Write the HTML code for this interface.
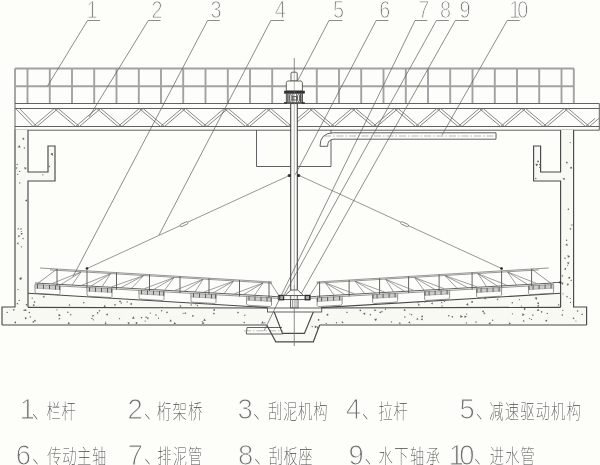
<!DOCTYPE html>
<html lang="zh"><head><meta charset="utf-8"><title>刮泥机结构示意图</title>
<style>
html,body{margin:0;padding:0;background:#fdfdf9;}
body{width:600px;height:465px;overflow:hidden;}
svg{display:block;filter:blur(0.35px);}
.m{stroke:#505050;stroke-width:0.9;fill:none;}
.mw{stroke:#505050;stroke-width:0.9;fill:#fdfdf9;}
.r{stroke:#a2a2a2;stroke-width:1.9;fill:none;}
.t{stroke:#6a6a6a;stroke-width:0.8;fill:none;}
.n{stroke:#6a6a6a;stroke-width:0.7;fill:none;}
.band{fill:#cbcbc8;stroke:#8a8a8a;stroke-width:0.5;}
.nw{stroke:#666;stroke-width:0.7;fill:#fdfdf9;}
.n2{stroke:#6e6e6e;stroke-width:0.65;fill:none;}
.c{stroke:#888;stroke-width:0.6;fill:none;stroke-dasharray:7 2 1.5 2;}
.c2{stroke:#777;stroke-width:0.5;fill:none;}
.ld{stroke:#5c5c5c;stroke-width:0.7;fill:none;}
.blk{fill:#222;stroke:none;}
.sq{fill:#aaa;stroke:#2a2a2a;stroke-width:1.2;}
.blkr{fill:#333;stroke:#333;stroke-width:0.5;}
.dot{fill:#666;}
.cf{fill:#f9f9f4;stroke:none;}
.kw{stroke:#484848;stroke-width:1.1;fill:#fdfdf9;}
.k{stroke:#484848;stroke-width:1.15;fill:none;}
.tri{fill:#666;stroke:none;}
text{font-family:"Liberation Sans","Noto Sans CJK SC",sans-serif;}
.d{fill:#707070;stroke:#fdfdf9;stroke-width:1.0;font-weight:400;}
.zs{fill:#484848;font-weight:100;letter-spacing:2.2px;}
.d10{fill:#707070;stroke:#fdfdf9;stroke-width:1.0;letter-spacing:-3.6px;}
.d10b{fill:#707070;stroke:#fdfdf9;stroke-width:1.0;letter-spacing:-5px;}
.z{fill:#484848;font-weight:100;font-family:"Liberation Sans","Noto Sans CJK SC",sans-serif;}
</style></head>
<body>
<svg width="600" height="465" viewBox="0 0 600 465">
<rect x="0" y="0" width="600" height="465" fill="#fdfdf9"/>
<g id="rail">
<line class="r" x1="15.0" y1="68.5" x2="574.0" y2="68.5"/>
<line class="r" x1="15.0" y1="86.2" x2="574.0" y2="86.2"/>
<line class="r" x1="15.0" y1="68.5" x2="15.0" y2="103.5"/>
<line class="r" x1="27.5" y1="68.5" x2="27.5" y2="103.5"/>
<line class="r" x1="49.8" y1="68.5" x2="49.8" y2="103.5"/>
<line class="r" x1="72.0" y1="68.5" x2="72.0" y2="103.5"/>
<line class="r" x1="94.2" y1="68.5" x2="94.2" y2="103.5"/>
<line class="r" x1="116.5" y1="68.5" x2="116.5" y2="103.5"/>
<line class="r" x1="138.8" y1="68.5" x2="138.8" y2="103.5"/>
<line class="r" x1="161.0" y1="68.5" x2="161.0" y2="103.5"/>
<line class="r" x1="183.2" y1="68.5" x2="183.2" y2="103.5"/>
<line class="r" x1="205.5" y1="68.5" x2="205.5" y2="103.5"/>
<line class="r" x1="227.8" y1="68.5" x2="227.8" y2="103.5"/>
<line class="r" x1="250.0" y1="68.5" x2="250.0" y2="103.5"/>
<line class="r" x1="272.2" y1="68.5" x2="272.2" y2="103.5"/>
<line class="r" x1="316.8" y1="68.5" x2="316.8" y2="103.5"/>
<line class="r" x1="339.0" y1="68.5" x2="339.0" y2="103.5"/>
<line class="r" x1="361.2" y1="68.5" x2="361.2" y2="103.5"/>
<line class="r" x1="383.5" y1="68.5" x2="383.5" y2="103.5"/>
<line class="r" x1="405.8" y1="68.5" x2="405.8" y2="103.5"/>
<line class="r" x1="428.0" y1="68.5" x2="428.0" y2="103.5"/>
<line class="r" x1="450.2" y1="68.5" x2="450.2" y2="103.5"/>
<line class="r" x1="472.5" y1="68.5" x2="472.5" y2="103.5"/>
<line class="r" x1="494.8" y1="68.5" x2="494.8" y2="103.5"/>
<line class="r" x1="517.0" y1="68.5" x2="517.0" y2="103.5"/>
<line class="r" x1="539.2" y1="68.5" x2="539.2" y2="103.5"/>
<line class="r" x1="561.5" y1="68.5" x2="561.5" y2="103.5"/>
<line class="r" x1="573.8" y1="68.5" x2="573.8" y2="103.5"/>
</g>
<g id="bridge">
<line class="m" x1="15.0" y1="103.5" x2="599.3" y2="103.5"/>
<line class="m" x1="15.0" y1="108.5" x2="599.3" y2="108.5"/>
<line class="m" x1="15.0" y1="126.5" x2="599.3" y2="126.5"/>
<line class="m" x1="15.0" y1="130.2" x2="599.3" y2="130.2"/>
<line class="m" x1="15.0" y1="103.5" x2="15.0" y2="130.2"/>
<line class="m" x1="599.3" y1="103.5" x2="599.3" y2="130.2"/>
<line class="t" x1="15.6" y1="108.5" x2="33.1" y2="126.5"/>
<line class="t" x1="19.4" y1="108.5" x2="36.9" y2="126.5"/>
<line class="t" x1="33.1" y1="126.5" x2="54.3" y2="108.5"/>
<line class="t" x1="36.9" y1="126.5" x2="58.1" y2="108.5"/>
<line class="t" x1="54.3" y1="108.5" x2="75.6" y2="126.5"/>
<line class="t" x1="58.1" y1="108.5" x2="79.4" y2="126.5"/>
<line class="t" x1="75.6" y1="126.5" x2="96.8" y2="108.5"/>
<line class="t" x1="79.4" y1="126.5" x2="100.6" y2="108.5"/>
<line class="t" x1="96.8" y1="108.5" x2="118.1" y2="126.5"/>
<line class="t" x1="100.6" y1="108.5" x2="121.9" y2="126.5"/>
<line class="t" x1="118.1" y1="126.5" x2="139.3" y2="108.5"/>
<line class="t" x1="121.9" y1="126.5" x2="143.1" y2="108.5"/>
<line class="t" x1="139.3" y1="108.5" x2="160.6" y2="126.5"/>
<line class="t" x1="143.1" y1="108.5" x2="164.4" y2="126.5"/>
<line class="t" x1="160.6" y1="126.5" x2="181.8" y2="108.5"/>
<line class="t" x1="164.4" y1="126.5" x2="185.6" y2="108.5"/>
<line class="t" x1="181.8" y1="108.5" x2="203.1" y2="126.5"/>
<line class="t" x1="185.6" y1="108.5" x2="206.9" y2="126.5"/>
<line class="t" x1="203.1" y1="126.5" x2="224.3" y2="108.5"/>
<line class="t" x1="206.9" y1="126.5" x2="228.1" y2="108.5"/>
<line class="t" x1="224.3" y1="108.5" x2="245.6" y2="126.5"/>
<line class="t" x1="228.1" y1="108.5" x2="249.4" y2="126.5"/>
<line class="t" x1="245.6" y1="126.5" x2="266.8" y2="108.5"/>
<line class="t" x1="249.4" y1="126.5" x2="270.6" y2="108.5"/>
<line class="t" x1="266.8" y1="108.5" x2="288.1" y2="126.5"/>
<line class="t" x1="270.6" y1="108.5" x2="291.9" y2="126.5"/>
<line class="t" x1="288.1" y1="126.5" x2="309.3" y2="108.5"/>
<line class="t" x1="291.9" y1="126.5" x2="313.1" y2="108.5"/>
<line class="t" x1="309.3" y1="108.5" x2="330.6" y2="126.5"/>
<line class="t" x1="313.1" y1="108.5" x2="334.4" y2="126.5"/>
<line class="t" x1="330.6" y1="126.5" x2="351.8" y2="108.5"/>
<line class="t" x1="334.4" y1="126.5" x2="355.6" y2="108.5"/>
<line class="t" x1="351.8" y1="108.5" x2="373.1" y2="126.5"/>
<line class="t" x1="355.6" y1="108.5" x2="376.9" y2="126.5"/>
<line class="t" x1="373.1" y1="126.5" x2="394.3" y2="108.5"/>
<line class="t" x1="376.9" y1="126.5" x2="398.1" y2="108.5"/>
<line class="t" x1="394.3" y1="108.5" x2="415.6" y2="126.5"/>
<line class="t" x1="398.1" y1="108.5" x2="419.4" y2="126.5"/>
<line class="t" x1="415.6" y1="126.5" x2="436.8" y2="108.5"/>
<line class="t" x1="419.4" y1="126.5" x2="440.6" y2="108.5"/>
<line class="t" x1="436.8" y1="108.5" x2="458.1" y2="126.5"/>
<line class="t" x1="440.6" y1="108.5" x2="461.9" y2="126.5"/>
<line class="t" x1="458.1" y1="126.5" x2="479.3" y2="108.5"/>
<line class="t" x1="461.9" y1="126.5" x2="483.1" y2="108.5"/>
<line class="t" x1="479.3" y1="108.5" x2="500.6" y2="126.5"/>
<line class="t" x1="483.1" y1="108.5" x2="504.4" y2="126.5"/>
<line class="t" x1="500.6" y1="126.5" x2="521.8" y2="108.5"/>
<line class="t" x1="504.4" y1="126.5" x2="525.6" y2="108.5"/>
<line class="t" x1="521.8" y1="108.5" x2="543.1" y2="126.5"/>
<line class="t" x1="525.6" y1="108.5" x2="546.9" y2="126.5"/>
<line class="t" x1="543.1" y1="126.5" x2="564.3" y2="108.5"/>
<line class="t" x1="546.9" y1="126.5" x2="568.1" y2="108.5"/>
<line class="t" x1="564.3" y1="108.5" x2="585.6" y2="126.5"/>
<line class="t" x1="568.1" y1="108.5" x2="589.4" y2="126.5"/>
<line class="t" x1="585.6" y1="126.5" x2="595.1" y2="118.4"/>
<line class="t" x1="589.4" y1="126.5" x2="598.9" y2="118.4"/>
</g>
<g id="tank">
<path class="cf" d="M15.0 130.0 L28.0 130.0 L28.0 172.0 L48.0 172.0 L48.0 146.0 L55.0 146.0 L55.0 181.0 L28.0 181.0 L28.0 293.3 L267.5 307.6 L267.5 312.0 L274.2 312.0 L278.0 325.0 L2.0 325.0 L2.0 307.0 L15.0 307.0 Z"/>
<path class="k" d="M28.0 130.0 L28.0 172.0 L48.0 172.0 L48.0 146.0 L55.0 146.0 L55.0 181.0 L28.0 181.0 L28.0 307.3"/>
<path class="k" d="M15.0 130.0 L15.0 307.0 L2.0 307.0 L2.0 325.0"/>
<line class="k" x1="28.0" y1="293.3" x2="267.5" y2="307.6"/>
<path class="cf" d="M573.6 130.0 L560.6 130.0 L560.6 172.0 L540.6 172.0 L540.6 146.0 L533.6 146.0 L533.6 181.0 L560.6 181.0 L560.6 293.3 L321.1 307.6 L321.1 312.0 L314.4 312.0 L310.6 325.0 L586.6 325.0 L586.6 307.0 L573.6 307.0 Z"/>
<path class="k" d="M560.6 130.0 L560.6 172.0 L540.6 172.0 L540.6 146.0 L533.6 146.0 L533.6 181.0 L560.6 181.0 L560.6 307.3"/>
<path class="k" d="M573.6 130.0 L573.6 307.0 L586.6 307.0 L586.6 325.0"/>
<line class="k" x1="560.6" y1="293.3" x2="321.1" y2="307.6"/>
<path class="cf" d="M266.7 325.0 L275.8 341.8 L313.3 341.8 L319.7 325.0 L313.3 312.0 L304.4 333.4 L282.5 333.4 L274.2 312.0 Z"/>
<path class="mw" d="M282.0 327.5 L247.0 327.5 L246.3 334.0 L282.6 334.0"/>
<line class="c" x1="244.0" y1="330.8" x2="283.0" y2="330.8"/>
<line class="k" x1="28.0" y1="307.3" x2="267.5" y2="308.0"/>
<line class="k" x1="560.6" y1="307.3" x2="321.1" y2="308.0"/>
<line class="k" x1="2.0" y1="325.0" x2="266.7" y2="325.0"/>
<line class="k" x1="586.6" y1="325.0" x2="319.7" y2="325.0"/>
<path class="k" d="M266.7 325.0 L275.8 341.8 L313.3 341.8 L319.7 325.0"/>
<path class="k" d="M274.2 312.0 L282.5 333.4 L304.4 333.4 L313.3 312.0"/>
<rect class="mw" x="267.5" y="308.0" width="54.2" height="4.0"/>
</g>
<g id="stip">
<circle class="dot" cx="21.0" cy="228.9" r="0.74"/>
<path class="tri" d="M20.6 232.7 L22.9 233.4 L21.2 235.0 Z"/>
<path class="tri" d="M24.8 146.9 L25.1 148.7 L23.4 148.0 Z"/>
<circle class="dot" cx="23.4" cy="138.8" r="0.94"/>
<path class="tri" d="M22.0 238.4 L23.7 237.8 L23.4 239.6 Z"/>
<path class="tri" d="M16.1 164.8 L17.4 163.6 L17.8 165.3 Z"/>
<circle class="dot" cx="20.9" cy="278.1" r="0.81"/>
<circle class="dot" cx="21.5" cy="246.8" r="0.66"/>
<circle class="dot" cx="26.5" cy="304.8" r="0.83"/>
<path class="tri" d="M19.8 170.4 L20.5 172.1 L18.7 171.9 Z"/>
<path class="tri" d="M21.5 277.4 L21.2 280.3 L18.8 278.7 Z"/>
<circle class="dot" cx="16.5" cy="168.0" r="0.74"/>
<path class="tri" d="M26.6 199.2 L27.4 201.6 L24.9 201.1 Z"/>
<path class="tri" d="M19.3 145.0 L20.6 147.6 L17.7 147.4 Z"/>
<path class="tri" d="M18.0 173.4 L18.4 175.1 L16.7 174.6 Z"/>
<path class="tri" d="M18.1 227.7 L19.3 229.3 L17.4 229.5 Z"/>
<path class="tri" d="M18.1 244.8 L16.6 243.1 L18.7 242.6 Z"/>
<circle class="dot" cx="19.2" cy="300.4" r="0.67"/>
<path class="tri" d="M24.3 166.9 L26.9 167.9 L24.8 169.7 Z"/>
<path class="tri" d="M17.7 302.5 L18.4 304.4 L16.4 304.1 Z"/>
<path class="tri" d="M18.9 182.5 L20.7 182.5 L19.8 184.1 Z"/>
<path class="tri" d="M20.2 235.8 L18.6 237.4 L18.0 235.2 Z"/>
<circle class="dot" cx="21.3" cy="231.5" r="0.62"/>
<circle class="dot" cx="18.0" cy="289.6" r="0.65"/>
<circle class="dot" cx="52.1" cy="153.8" r="0.90"/>
<circle class="dot" cx="52.6" cy="155.1" r="0.65"/>
<path class="tri" d="M49.1 165.5 L50.3 167.0 L48.4 167.3 Z"/>
<circle class="dot" cx="42.9" cy="174.8" r="0.66"/>
<path class="tri" d="M50.4 154.4 L51.7 152.9 L52.4 154.8 Z"/>
<path class="tri" d="M44.7 297.8 L42.4 297.1 L44.2 295.5 Z"/>
<circle class="dot" cx="115.0" cy="304.9" r="0.81"/>
<circle class="dot" cx="33.7" cy="305.1" r="0.94"/>
<circle class="dot" cx="34.5" cy="302.0" r="0.84"/>
<path class="tri" d="M104.6 304.7 L106.0 306.7 L103.6 306.9 Z"/>
<circle class="dot" cx="195.6" cy="303.8" r="0.69"/>
<circle class="dot" cx="191.2" cy="305.0" r="0.72"/>
<circle class="dot" cx="216.1" cy="304.6" r="0.80"/>
<circle class="dot" cx="119.7" cy="301.4" r="0.58"/>
<circle class="dot" cx="180.4" cy="306.0" r="0.84"/>
<circle class="dot" cx="121.2" cy="303.1" r="0.73"/>
<circle class="dot" cx="83.8" cy="302.7" r="0.80"/>
<circle class="dot" cx="32.2" cy="298.2" r="0.63"/>
<circle class="dot" cx="69.5" cy="305.0" r="0.73"/>
<circle class="dot" cx="131.2" cy="303.9" r="0.90"/>
<path class="tri" d="M119.1 301.4 L120.7 300.4 L120.8 302.3 Z"/>
<path class="tri" d="M196.3 305.9 L197.6 304.4 L198.2 306.3 Z"/>
<circle class="dot" cx="127.2" cy="301.9" r="0.68"/>
<circle class="dot" cx="570.5" cy="302.4" r="0.58"/>
<path class="tri" d="M561.1 282.7 L563.6 282.5 L562.5 284.9 Z"/>
<path class="tri" d="M564.1 269.5 L565.4 268.2 L566.0 270.0 Z"/>
<path class="tri" d="M563.4 276.2 L561.5 276.6 L562.1 274.8 Z"/>
<circle class="dot" cx="568.4" cy="209.2" r="0.81"/>
<circle class="dot" cx="570.2" cy="298.3" r="0.63"/>
<path class="tri" d="M566.6 161.3 L568.1 163.0 L565.9 163.5 Z"/>
<path class="tri" d="M562.4 178.7 L564.8 177.7 L564.5 180.3 Z"/>
<path class="tri" d="M569.5 262.2 L568.4 264.6 L566.8 262.4 Z"/>
<circle class="dot" cx="563.0" cy="293.8" r="0.60"/>
<circle class="dot" cx="566.6" cy="240.3" r="0.70"/>
<circle class="dot" cx="567.8" cy="284.5" r="0.93"/>
<path class="tri" d="M567.4 243.5 L567.6 246.1 L565.2 245.0 Z"/>
<path class="tri" d="M570.1 256.2 L567.9 257.9 L567.5 255.1 Z"/>
<circle class="dot" cx="571.9" cy="224.9" r="0.68"/>
<path class="tri" d="M570.2 280.8 L571.4 279.4 L572.0 281.1 Z"/>
<circle class="dot" cx="567.6" cy="265.2" r="0.56"/>
<circle class="dot" cx="570.2" cy="142.6" r="0.62"/>
<path class="tri" d="M564.4 268.5 L566.1 267.7 L565.9 269.6 Z"/>
<circle class="dot" cx="569.3" cy="277.7" r="0.93"/>
<path class="tri" d="M565.9 296.5 L567.8 295.8 L567.4 297.7 Z"/>
<circle class="dot" cx="565.0" cy="258.3" r="0.76"/>
<path class="tri" d="M571.2 227.9 L571.1 230.1 L569.3 228.8 Z"/>
<circle class="dot" cx="571.1" cy="167.7" r="0.94"/>
<circle class="dot" cx="539.9" cy="164.6" r="0.79"/>
<circle class="dot" cx="535.8" cy="178.5" r="0.71"/>
<path class="tri" d="M538.2 164.0 L536.6 166.4 L535.3 163.8 Z"/>
<circle class="dot" cx="538.1" cy="161.4" r="0.91"/>
<circle class="dot" cx="539.7" cy="167.3" r="0.60"/>
<path class="tri" d="M486.4 299.3 L483.9 299.0 L485.4 297.0 Z"/>
<circle class="dot" cx="472.1" cy="302.0" r="0.89"/>
<path class="tri" d="M468.0 303.1 L468.4 305.7 L466.0 304.7 Z"/>
<path class="tri" d="M536.5 300.0 L534.6 297.8 L537.4 297.3 Z"/>
<path class="tri" d="M558.5 303.7 L559.8 305.3 L557.8 305.6 Z"/>
<circle class="dot" cx="519.5" cy="299.6" r="0.60"/>
<path class="tri" d="M417.7 301.5 L419.3 302.7 L417.5 303.5 Z"/>
<path class="tri" d="M538.3 304.4 L539.3 306.5 L537.0 306.4 Z"/>
<path class="tri" d="M442.6 303.2 L440.8 302.9 L441.9 301.5 Z"/>
<path class="tri" d="M444.9 302.3 L443.5 301.0 L445.4 300.4 Z"/>
<circle class="dot" cx="521.4" cy="306.0" r="0.59"/>
<path class="tri" d="M430.8 303.3 L432.9 302.4 L432.7 304.6 Z"/>
<path class="tri" d="M425.4 300.4 L425.3 302.9 L423.1 301.5 Z"/>
<path class="tri" d="M496.5 299.3 L498.2 298.5 L498.1 300.4 Z"/>
<circle class="dot" cx="512.3" cy="302.8" r="0.80"/>
<circle class="dot" cx="442.1" cy="305.9" r="0.65"/>
<circle class="dot" cx="538.2" cy="303.2" r="0.88"/>
<circle class="dot" cx="418.8" cy="304.9" r="0.83"/>
<path class="tri" d="M205.9 320.7 L203.3 321.0 L204.4 318.6 Z"/>
<path class="tri" d="M92.2 314.8 L94.3 315.6 L92.6 317.0 Z"/>
<circle class="dot" cx="167.0" cy="312.4" r="0.82"/>
<circle class="dot" cx="92.0" cy="318.6" r="0.76"/>
<circle class="dot" cx="105.6" cy="323.5" r="0.83"/>
<path class="tri" d="M203.0 321.8 L204.4 323.8 L201.9 324.0 Z"/>
<path class="tri" d="M69.9 315.6 L70.4 313.7 L71.8 315.1 Z"/>
<circle class="dot" cx="29.3" cy="312.6" r="0.77"/>
<circle class="dot" cx="136.5" cy="323.0" r="0.95"/>
<path class="tri" d="M170.7 319.3 L171.8 321.5 L169.4 321.4 Z"/>
<path class="tri" d="M16.0 323.6 L14.0 322.5 L16.0 321.3 Z"/>
<path class="tri" d="M131.9 318.7 L133.4 316.2 L134.7 318.7 Z"/>
<path class="tri" d="M140.8 316.7 L142.7 317.6 L141.0 318.8 Z"/>
<circle class="dot" cx="150.4" cy="313.1" r="0.67"/>
<path class="tri" d="M7.2 311.4 L8.1 313.1 L6.2 313.1 Z"/>
<circle class="dot" cx="105.7" cy="322.0" r="0.57"/>
<path class="tri" d="M261.1 323.4 L262.7 321.1 L263.9 323.6 Z"/>
<path class="tri" d="M129.9 322.6 L128.5 324.5 L127.5 322.3 Z"/>
<circle class="dot" cx="192.9" cy="315.8" r="0.88"/>
<circle class="dot" cx="161.6" cy="310.7" r="0.73"/>
<circle class="dot" cx="56.9" cy="309.8" r="0.60"/>
<circle class="dot" cx="119.5" cy="318.7" r="0.65"/>
<circle class="dot" cx="156.0" cy="315.1" r="0.76"/>
<circle class="dot" cx="264.9" cy="322.8" r="0.65"/>
<circle class="dot" cx="33.3" cy="321.9" r="0.80"/>
<circle class="dot" cx="97.6" cy="312.9" r="0.78"/>
<circle class="dot" cx="158.5" cy="318.2" r="0.63"/>
<circle class="dot" cx="68.7" cy="323.2" r="0.90"/>
<path class="tri" d="M12.9 309.0 L15.1 309.5 L13.5 311.1 Z"/>
<path class="tri" d="M29.9 315.9 L31.4 316.9 L29.8 317.7 Z"/>
<path class="tri" d="M148.1 319.4 L146.5 317.8 L148.7 317.2 Z"/>
<circle class="dot" cx="93.5" cy="319.8" r="0.58"/>
<circle class="dot" cx="34.9" cy="320.7" r="0.86"/>
<path class="tri" d="M58.3 316.3 L58.9 313.7 L60.9 315.5 Z"/>
<path class="tri" d="M174.7 322.0 L176.0 324.0 L173.6 324.1 Z"/>
<path class="tri" d="M245.5 314.4 L245.0 316.2 L243.7 314.9 Z"/>
<circle class="dot" cx="24.1" cy="310.2" r="0.74"/>
<circle class="dot" cx="183.1" cy="313.3" r="0.58"/>
<path class="tri" d="M59.2 317.4 L60.5 319.0 L58.4 319.4 Z"/>
<path class="tri" d="M185.1 311.9 L186.5 313.6 L184.3 313.9 Z"/>
<circle class="dot" cx="99.5" cy="310.7" r="0.78"/>
<circle class="dot" cx="244.2" cy="322.6" r="0.73"/>
<path class="tri" d="M215.1 312.9 L213.8 314.7 L212.9 312.7 Z"/>
<path class="tri" d="M237.1 313.6 L237.5 311.4 L239.2 312.8 Z"/>
<path class="tri" d="M107.6 313.3 L108.1 315.6 L105.8 314.9 Z"/>
<circle class="dot" cx="145.1" cy="321.1" r="0.62"/>
<path class="tri" d="M201.3 321.7 L202.9 320.9 L202.8 322.7 Z"/>
<circle class="dot" cx="146.1" cy="317.2" r="0.81"/>
<circle class="dot" cx="214.2" cy="309.9" r="0.87"/>
<circle class="dot" cx="25.5" cy="310.2" r="0.91"/>
<path class="tri" d="M24.8 317.0 L27.2 318.0 L25.1 319.6 Z"/>
<circle class="dot" cx="67.8" cy="312.2" r="0.76"/>
<path class="tri" d="M522.3 313.2 L524.8 314.8 L522.2 316.1 Z"/>
<circle class="dot" cx="452.3" cy="316.8" r="0.83"/>
<circle class="dot" cx="562.3" cy="315.0" r="0.82"/>
<circle class="dot" cx="546.3" cy="320.7" r="0.91"/>
<circle class="dot" cx="573.5" cy="318.3" r="0.83"/>
<path class="tri" d="M532.8 314.0 L533.9 315.6 L532.0 315.7 Z"/>
<path class="tri" d="M581.1 315.0 L582.2 313.3 L583.1 315.1 Z"/>
<path class="tri" d="M400.6 323.9 L398.6 323.5 L400.0 321.9 Z"/>
<path class="tri" d="M491.6 320.5 L492.9 319.2 L493.4 321.0 Z"/>
<path class="tri" d="M476.4 323.2 L474.9 322.1 L476.6 321.3 Z"/>
<circle class="dot" cx="380.2" cy="312.4" r="0.79"/>
<path class="tri" d="M382.0 310.6 L382.9 312.3 L381.0 312.2 Z"/>
<circle class="dot" cx="404.9" cy="316.9" r="0.74"/>
<circle class="dot" cx="391.5" cy="321.9" r="0.69"/>
<circle class="dot" cx="466.4" cy="322.9" r="0.64"/>
<circle class="dot" cx="336.5" cy="322.7" r="0.70"/>
<path class="tri" d="M460.3 315.1 L462.9 316.4 L460.4 318.0 Z"/>
<circle class="dot" cx="385.5" cy="309.2" r="0.70"/>
<circle class="dot" cx="531.5" cy="319.3" r="0.61"/>
<path class="tri" d="M362.9 313.5 L365.4 312.4 L365.1 315.1 Z"/>
<path class="tri" d="M490.6 324.5 L488.4 323.5 L490.3 322.1 Z"/>
<circle class="dot" cx="524.6" cy="309.0" r="0.89"/>
<path class="tri" d="M539.3 311.1 L536.7 310.8 L538.2 308.7 Z"/>
<circle class="dot" cx="448.8" cy="315.8" r="0.78"/>
<circle class="dot" cx="547.3" cy="313.4" r="0.72"/>
<circle class="dot" cx="562.8" cy="310.3" r="0.63"/>
<path class="tri" d="M464.7 318.1 L464.3 315.4 L466.9 316.4 Z"/>
<path class="tri" d="M404.3 308.8 L405.9 310.5 L403.6 311.0 Z"/>
<path class="tri" d="M416.1 319.3 L417.7 317.7 L418.3 319.9 Z"/>
<circle class="dot" cx="575.9" cy="321.0" r="0.55"/>
<path class="tri" d="M420.6 319.7 L422.3 317.9 L422.9 320.3 Z"/>
<circle class="dot" cx="326.2" cy="323.4" r="0.63"/>
<path class="tri" d="M483.9 314.5 L483.4 312.2 L485.6 312.9 Z"/>
<circle class="dot" cx="411.6" cy="314.7" r="0.65"/>
<path class="tri" d="M374.2 319.0 L377.0 318.6 L375.9 321.3 Z"/>
<circle class="dot" cx="512.4" cy="313.8" r="0.59"/>
<circle class="dot" cx="360.3" cy="310.4" r="0.83"/>
<circle class="dot" cx="370.4" cy="314.8" r="0.79"/>
<path class="tri" d="M346.1 312.9 L346.9 311.2 L348.0 312.8 Z"/>
<path class="tri" d="M341.7 321.3 L343.8 322.2 L341.9 323.6 Z"/>
<path class="tri" d="M522.6 321.6 L523.6 319.7 L524.7 321.5 Z"/>
<circle class="dot" cx="327.5" cy="314.8" r="0.94"/>
<circle class="dot" cx="529.6" cy="318.6" r="0.56"/>
<circle class="dot" cx="409.9" cy="314.0" r="0.59"/>
<circle class="dot" cx="422.1" cy="316.4" r="0.88"/>
<circle class="dot" cx="483.1" cy="311.3" r="0.91"/>
<circle class="dot" cx="466.6" cy="314.1" r="0.61"/>
<circle class="dot" cx="509.7" cy="323.3" r="0.84"/>
<circle class="dot" cx="541.6" cy="311.9" r="0.80"/>
<path class="tri" d="M374.7 308.9 L376.5 310.5 L374.2 311.3 Z"/>
<path class="tri" d="M410.4 323.4 L408.1 322.8 L409.8 321.2 Z"/>
<circle class="dot" cx="577.6" cy="311.0" r="0.77"/>
<path class="tri" d="M317.2 326.7 L314.8 328.3 L314.7 325.5 Z"/>
<path class="tri" d="M317.5 329.3 L316.7 326.6 L319.4 327.3 Z"/>
<circle class="dot" cx="318.6" cy="319.8" r="0.88"/>
<path class="tri" d="M312.6 327.5 L311.2 326.5 L312.8 325.7 Z"/>
</g>
<g id="well">
<path class="m" d="M256.5 130.0 L256.5 166.5 L331.0 166.5 L331.0 130.0"/>
<path class="mw" d="M496 132.8 L333.5 132.8 Q320 132.8 320 146.3 L327.6 146.3 Q327.6 139.2 334 139.2 L496 139.2 Z"/>
<line class="c" x1="324.0" y1="136.0" x2="499.0" y2="136.0"/>
</g>
<g id="shaft">
<rect class="kw" x="290.7" y="103.5" width="6.6" height="192.0"/>
<line class="c2" x1="294.3" y1="58.0" x2="294.3" y2="346.0"/>
<circle class="blk" cx="289.3" cy="175.5" r="1.6"/>
<circle class="blk" cx="298.7" cy="175.5" r="1.6"/>
</g>
<g id="motor">
<path class="mw" d="M291.0 81.0 L291.0 73.0 L291.8 72.2 L296.4 72.2 L297.2 73.0 L297.2 81.0 Z"/>
<path class="mw" d="M286.3 91.0 L286.3 82.4 L287.4 81.0 L301.3 81.0 L302.4 82.4 L302.4 91.0 Z"/>
<rect class="blkr" x="284.2" y="91.0" width="20.5" height="2.3"/>
<rect class="mw" x="286.3" y="93.4" width="16.1" height="9.0"/>
<line class="k" x1="287.2" y1="93.4" x2="287.2" y2="102.4"/>
<line class="k" x1="289.0" y1="93.4" x2="289.0" y2="102.4"/>
<line class="k" x1="300.4" y1="93.4" x2="300.4" y2="102.4"/>
<line class="k" x1="302.0" y1="93.4" x2="302.0" y2="102.4"/>
<ellipse class="m" cx="290.8" cy="98" rx="1.1" ry="3.6"/>
<ellipse class="m" cx="298.6" cy="98" rx="1.1" ry="3.6"/>
<rect class="mw" x="292.9" y="96.6" width="3.8" height="3.4"/>
<line class="m" x1="292.9" y1="93.4" x2="292.9" y2="102.4"/>
<line class="m" x1="296.7" y1="93.4" x2="296.7" y2="102.4"/>
<rect class="blkr" x="284.3" y="102.3" width="2.4" height="1.3"/>
<rect class="blkr" x="302.0" y="102.3" width="2.6" height="1.3"/>
<line class="c2" x1="294.3" y1="58.0" x2="294.3" y2="104.0"/>
</g>
<g id="tie">
<line class="n" x1="289.3" y1="175.5" x2="87.0" y2="268.5"/>
<rect class="nw" x="179.8" y="223.0" width="8.4" height="2.4" rx="1.1" transform="rotate(155.3 184.0 224.2)"/>
<circle class="blk" cx="87.0" cy="268.5" r="1.35"/>
<line class="n" x1="299.3" y1="175.5" x2="501.6" y2="268.5"/>
<rect class="nw" x="400.4" y="223.0" width="8.4" height="2.4" rx="1.1" transform="rotate(24.7 404.6 224.2)"/>
<circle class="blk" cx="501.6" cy="268.5" r="1.35"/>
</g>
<g id="arm">
<line class="n" x1="40.0" y1="268.0" x2="272.0" y2="282.0"/>
<line class="n" x1="50.0" y1="269.9" x2="272.0" y2="283.2"/>
<line class="m" x1="35.0" y1="283.0" x2="272.0" y2="296.3"/>
<line class="n" x1="35.0" y1="284.6" x2="272.0" y2="297.9"/>
<line class="n" x1="38.0" y1="283.2" x2="57.0" y2="269.0"/>
<line class="m" x1="57.0" y1="269.0" x2="57.0" y2="286.2"/>
<line class="m" x1="87.0" y1="270.8" x2="87.0" y2="287.9"/>
<line class="m" x1="116.5" y1="272.6" x2="116.5" y2="289.6"/>
<line class="m" x1="149.5" y1="274.6" x2="149.5" y2="291.4"/>
<line class="m" x1="180.0" y1="276.4" x2="180.0" y2="293.1"/>
<line class="m" x1="209.0" y1="278.2" x2="209.0" y2="294.8"/>
<line class="m" x1="239.5" y1="280.0" x2="239.5" y2="296.5"/>
<line class="m" x1="269.0" y1="281.8" x2="269.0" y2="298.1"/>
<line class="n2" x1="52.0" y1="283.5" x2="81.0" y2="272.0"/>
<line class="n2" x1="61.0" y1="284.5" x2="81.0" y2="272.0"/>
<line class="n2" x1="72.0" y1="285.1" x2="81.0" y2="272.0"/>
<line class="n2" x1="82.0" y1="285.1" x2="110.5" y2="273.8"/>
<line class="n2" x1="91.0" y1="286.1" x2="110.5" y2="273.8"/>
<line class="n2" x1="102.0" y1="286.8" x2="110.5" y2="273.8"/>
<line class="n2" x1="111.5" y1="286.8" x2="143.5" y2="275.7"/>
<line class="n2" x1="120.5" y1="287.8" x2="143.5" y2="275.7"/>
<line class="n2" x1="131.5" y1="288.4" x2="143.5" y2="275.7"/>
<line class="n2" x1="144.5" y1="288.6" x2="174.0" y2="277.6"/>
<line class="n2" x1="153.5" y1="289.6" x2="174.0" y2="277.6"/>
<line class="n2" x1="164.5" y1="290.3" x2="174.0" y2="277.6"/>
<line class="n2" x1="175.0" y1="290.4" x2="203.0" y2="279.3"/>
<line class="n2" x1="184.0" y1="291.4" x2="203.0" y2="279.3"/>
<line class="n2" x1="195.0" y1="292.0" x2="203.0" y2="279.3"/>
<line class="n2" x1="204.0" y1="292.0" x2="233.5" y2="281.2"/>
<line class="n2" x1="213.0" y1="293.0" x2="233.5" y2="281.2"/>
<line class="n2" x1="224.0" y1="293.6" x2="233.5" y2="281.2"/>
<line class="n2" x1="234.5" y1="293.7" x2="263.0" y2="283.0"/>
<line class="n2" x1="243.5" y1="294.7" x2="263.0" y2="283.0"/>
<line class="n2" x1="254.5" y1="295.3" x2="263.0" y2="283.0"/>
<line class="n" x1="270.0" y1="281.9" x2="279.5" y2="296.5"/>
<path class="n" d="M35.0 284.6 L35.0 292.1 L36.2 293.3 L58.8 294.7 L60.0 293.5 L60.0 286.0"/>
<path class="band" d="M35.0 284.6 L60.0 286.0 L60.0 289.6 L35.0 288.2 Z"/>
<line class="m" x1="37.5" y1="284.3" x2="37.5" y2="288.5"/>
<line class="m" x1="43.5" y1="284.7" x2="43.5" y2="288.9"/>
<line class="m" x1="49.5" y1="285.0" x2="49.5" y2="289.2"/>
<line class="m" x1="55.5" y1="285.4" x2="55.5" y2="289.6"/>
<line class="m" x1="59.6" y1="285.6" x2="59.6" y2="289.8"/>
<path class="n" d="M87.0 287.5 L87.0 295.0 L88.2 296.2 L110.8 297.6 L112.0 296.4 L112.0 288.9"/>
<path class="band" d="M87.0 287.5 L112.0 288.9 L112.0 292.5 L87.0 291.1 Z"/>
<line class="m" x1="89.5" y1="287.3" x2="89.5" y2="291.5"/>
<line class="m" x1="95.5" y1="287.6" x2="95.5" y2="291.8"/>
<line class="m" x1="101.5" y1="287.9" x2="101.5" y2="292.1"/>
<line class="m" x1="107.5" y1="288.3" x2="107.5" y2="292.5"/>
<line class="m" x1="111.6" y1="288.5" x2="111.6" y2="292.7"/>
<path class="n" d="M139.0 290.4 L139.0 297.9 L140.2 299.1 L162.8 300.5 L164.0 299.3 L164.0 291.8"/>
<path class="band" d="M139.0 290.4 L164.0 291.8 L164.0 295.4 L139.0 294.0 Z"/>
<line class="m" x1="141.5" y1="290.2" x2="141.5" y2="294.4"/>
<line class="m" x1="147.5" y1="290.5" x2="147.5" y2="294.7"/>
<line class="m" x1="153.5" y1="290.8" x2="153.5" y2="295.0"/>
<line class="m" x1="159.5" y1="291.2" x2="159.5" y2="295.4"/>
<line class="m" x1="163.6" y1="291.4" x2="163.6" y2="295.6"/>
<path class="n" d="M191.0 293.4 L191.0 300.9 L192.2 302.1 L214.8 303.5 L216.0 302.3 L216.0 294.8"/>
<path class="band" d="M191.0 293.4 L216.0 294.8 L216.0 298.4 L191.0 297.0 Z"/>
<line class="m" x1="193.5" y1="293.1" x2="193.5" y2="297.3"/>
<line class="m" x1="199.5" y1="293.4" x2="199.5" y2="297.6"/>
<line class="m" x1="205.5" y1="293.8" x2="205.5" y2="298.0"/>
<line class="m" x1="211.5" y1="294.1" x2="211.5" y2="298.3"/>
<line class="m" x1="215.6" y1="294.3" x2="215.6" y2="298.5"/>
<path class="n" d="M246.5 296.5 L246.5 304.0 L247.7 305.2 L270.3 306.6 L271.5 305.4 L271.5 297.9"/>
<path class="band" d="M246.5 296.5 L271.5 297.9 L271.5 301.5 L246.5 300.1 Z"/>
<line class="m" x1="249.0" y1="296.2" x2="249.0" y2="300.4"/>
<line class="m" x1="255.0" y1="296.5" x2="255.0" y2="300.7"/>
<line class="m" x1="261.0" y1="296.9" x2="261.0" y2="301.1"/>
<line class="m" x1="267.0" y1="297.2" x2="267.0" y2="301.4"/>
<line class="m" x1="271.1" y1="297.4" x2="271.1" y2="301.6"/>
<line class="n" x1="548.6" y1="268.0" x2="316.6" y2="282.0"/>
<line class="n" x1="538.6" y1="269.9" x2="316.6" y2="283.2"/>
<line class="m" x1="553.6" y1="283.0" x2="316.6" y2="296.3"/>
<line class="n" x1="553.6" y1="284.6" x2="316.6" y2="297.9"/>
<line class="n" x1="550.6" y1="283.2" x2="531.6" y2="269.0"/>
<line class="m" x1="531.6" y1="269.0" x2="531.6" y2="286.2"/>
<line class="m" x1="501.6" y1="270.8" x2="501.6" y2="287.9"/>
<line class="m" x1="472.1" y1="272.6" x2="472.1" y2="289.6"/>
<line class="m" x1="439.1" y1="274.6" x2="439.1" y2="291.4"/>
<line class="m" x1="408.6" y1="276.4" x2="408.6" y2="293.1"/>
<line class="m" x1="379.6" y1="278.2" x2="379.6" y2="294.8"/>
<line class="m" x1="349.1" y1="280.0" x2="349.1" y2="296.5"/>
<line class="m" x1="319.6" y1="281.8" x2="319.6" y2="298.1"/>
<line class="n2" x1="536.6" y1="283.5" x2="507.6" y2="272.0"/>
<line class="n2" x1="527.6" y1="284.5" x2="507.6" y2="272.0"/>
<line class="n2" x1="516.6" y1="285.1" x2="507.6" y2="272.0"/>
<line class="n2" x1="506.6" y1="285.1" x2="478.1" y2="273.8"/>
<line class="n2" x1="497.6" y1="286.1" x2="478.1" y2="273.8"/>
<line class="n2" x1="486.6" y1="286.8" x2="478.1" y2="273.8"/>
<line class="n2" x1="477.1" y1="286.8" x2="445.1" y2="275.7"/>
<line class="n2" x1="468.1" y1="287.8" x2="445.1" y2="275.7"/>
<line class="n2" x1="457.1" y1="288.4" x2="445.1" y2="275.7"/>
<line class="n2" x1="444.1" y1="288.6" x2="414.6" y2="277.6"/>
<line class="n2" x1="435.1" y1="289.6" x2="414.6" y2="277.6"/>
<line class="n2" x1="424.1" y1="290.3" x2="414.6" y2="277.6"/>
<line class="n2" x1="413.6" y1="290.4" x2="385.6" y2="279.3"/>
<line class="n2" x1="404.6" y1="291.4" x2="385.6" y2="279.3"/>
<line class="n2" x1="393.6" y1="292.0" x2="385.6" y2="279.3"/>
<line class="n2" x1="384.6" y1="292.0" x2="355.1" y2="281.2"/>
<line class="n2" x1="375.6" y1="293.0" x2="355.1" y2="281.2"/>
<line class="n2" x1="364.6" y1="293.6" x2="355.1" y2="281.2"/>
<line class="n2" x1="354.1" y1="293.7" x2="325.6" y2="283.0"/>
<line class="n2" x1="345.1" y1="294.7" x2="325.6" y2="283.0"/>
<line class="n2" x1="334.1" y1="295.3" x2="325.6" y2="283.0"/>
<line class="n" x1="318.6" y1="281.9" x2="309.1" y2="296.5"/>
<path class="n" d="M553.6 284.6 L553.6 292.1 L552.4 293.3 L529.8 294.7 L528.6 293.5 L528.6 286.0"/>
<path class="band" d="M553.6 284.6 L528.6 286.0 L528.6 289.6 L553.6 288.2 Z"/>
<line class="m" x1="551.1" y1="284.3" x2="551.1" y2="288.5"/>
<line class="m" x1="545.1" y1="284.7" x2="545.1" y2="288.9"/>
<line class="m" x1="539.1" y1="285.0" x2="539.1" y2="289.2"/>
<line class="m" x1="533.1" y1="285.4" x2="533.1" y2="289.6"/>
<line class="m" x1="529.0" y1="285.6" x2="529.0" y2="289.8"/>
<path class="n" d="M501.6 287.5 L501.6 295.0 L500.4 296.2 L477.8 297.6 L476.6 296.4 L476.6 288.9"/>
<path class="band" d="M501.6 287.5 L476.6 288.9 L476.6 292.5 L501.6 291.1 Z"/>
<line class="m" x1="499.1" y1="287.3" x2="499.1" y2="291.5"/>
<line class="m" x1="493.1" y1="287.6" x2="493.1" y2="291.8"/>
<line class="m" x1="487.1" y1="287.9" x2="487.1" y2="292.1"/>
<line class="m" x1="481.1" y1="288.3" x2="481.1" y2="292.5"/>
<line class="m" x1="477.0" y1="288.5" x2="477.0" y2="292.7"/>
<path class="n" d="M449.6 290.4 L449.6 297.9 L448.4 299.1 L425.8 300.5 L424.6 299.3 L424.6 291.8"/>
<path class="band" d="M449.6 290.4 L424.6 291.8 L424.6 295.4 L449.6 294.0 Z"/>
<line class="m" x1="447.1" y1="290.2" x2="447.1" y2="294.4"/>
<line class="m" x1="441.1" y1="290.5" x2="441.1" y2="294.7"/>
<line class="m" x1="435.1" y1="290.8" x2="435.1" y2="295.0"/>
<line class="m" x1="429.1" y1="291.2" x2="429.1" y2="295.4"/>
<line class="m" x1="425.0" y1="291.4" x2="425.0" y2="295.6"/>
<path class="n" d="M397.6 293.4 L397.6 300.9 L396.4 302.1 L373.8 303.5 L372.6 302.3 L372.6 294.8"/>
<path class="band" d="M397.6 293.4 L372.6 294.8 L372.6 298.4 L397.6 297.0 Z"/>
<line class="m" x1="395.1" y1="293.1" x2="395.1" y2="297.3"/>
<line class="m" x1="389.1" y1="293.4" x2="389.1" y2="297.6"/>
<line class="m" x1="383.1" y1="293.8" x2="383.1" y2="298.0"/>
<line class="m" x1="377.1" y1="294.1" x2="377.1" y2="298.3"/>
<line class="m" x1="373.0" y1="294.3" x2="373.0" y2="298.5"/>
<path class="n" d="M342.1 296.5 L342.1 304.0 L340.9 305.2 L318.3 306.6 L317.1 305.4 L317.1 297.9"/>
<path class="band" d="M342.1 296.5 L317.1 297.9 L317.1 301.5 L342.1 300.1 Z"/>
<line class="m" x1="339.6" y1="296.2" x2="339.6" y2="300.4"/>
<line class="m" x1="333.6" y1="296.5" x2="333.6" y2="300.7"/>
<line class="m" x1="327.6" y1="296.9" x2="327.6" y2="301.1"/>
<line class="m" x1="321.6" y1="297.2" x2="321.6" y2="301.4"/>
<line class="m" x1="317.5" y1="297.4" x2="317.5" y2="301.6"/>
<line class="m" x1="553.0" y1="282.6" x2="560.3" y2="282.4"/>
<circle class="blk" cx="560.3" cy="282.4" r="1.1"/>
</g>
<g id="hub">
<path class="mw" d="M285.0 295.6 L290.8 290.0 L297.8 290.0 L303.6 295.6 Z"/>
<rect class="mw" x="278.3" y="295.6" width="32.0" height="4.0"/>
<rect class="sq" x="279.2" y="295.4" width="4.4" height="4.4"/>
<rect class="sq" x="305.2" y="295.4" width="4.4" height="4.4"/>
<rect class="mw" x="290.6" y="299.6" width="7.4" height="8.2"/>
<line class="n" x1="292.6" y1="299.6" x2="292.6" y2="307.8"/>
<line class="n" x1="296.0" y1="299.6" x2="296.0" y2="307.8"/>
<line class="m" x1="290.7" y1="295.6" x2="290.7" y2="299.6"/>
<line class="m" x1="297.3" y1="295.6" x2="297.3" y2="299.6"/>
<line class="m" x1="272.0" y1="296.4" x2="279.0" y2="296.8"/>
<line class="m" x1="316.6" y1="296.4" x2="309.6" y2="296.8"/>
<line class="n" x1="272.0" y1="298.0" x2="279.0" y2="298.4"/>
<line class="n" x1="316.6" y1="298.0" x2="309.6" y2="298.4"/>
<line class="c2" x1="294.3" y1="285.0" x2="294.3" y2="346.0"/>
</g>
<g id="lead">
<path class="ld" d="M100.0 20.5 L87.5 20.5 L47.5 86.0"/>
<path class="ld" d="M160.6 20.5 L148.3 20.5 L89.0 117.0"/>
<path class="ld" d="M219.8 20.5 L207.6 20.5 L73.0 276.5"/>
<path class="ld" d="M284.0 20.5 L270.8 20.5 L159.0 235.0"/>
<path class="ld" d="M342.4 20.5 L329.0 20.5 L298.0 80.0"/>
<path class="ld" d="M388.4 20.5 L376.2 20.5 L295.3 174.6"/>
<path class="ld" d="M427.3 20.5 L415.0 20.5 L264.0 331.0"/>
<path class="ld" d="M448.9 20.5 L436.4 20.5 L283.0 297.0"/>
<path class="ld" d="M468.7 20.5 L455.3 20.5 L301.6 293.0"/>
<path class="ld" d="M519.6 20.5 L507.2 20.5 L442.0 135.0"/>
</g>
<text class="d" transform="translate(92.3 18.3) scale(0.82 1)" font-size="24.2" text-anchor="middle">1</text>
<text class="d" transform="translate(156.9 18.3) scale(0.82 1)" font-size="24.2" text-anchor="middle">2</text>
<text class="d" transform="translate(216.1 18.3) scale(0.82 1)" font-size="24.2" text-anchor="middle">3</text>
<text class="d" transform="translate(280.2 18.3) scale(0.82 1)" font-size="24.2" text-anchor="middle">4</text>
<text class="d" transform="translate(338.4 18.3) scale(0.82 1)" font-size="24.2" text-anchor="middle">5</text>
<text class="d" transform="translate(384.8 18.3) scale(0.82 1)" font-size="24.2" text-anchor="middle">6</text>
<text class="d" transform="translate(423.7 18.3) scale(0.82 1)" font-size="24.2" text-anchor="middle">7</text>
<text class="d" transform="translate(445.5 18.3) scale(0.82 1)" font-size="24.2" text-anchor="middle">8</text>
<text class="d" transform="translate(465.0 18.3) scale(0.82 1)" font-size="24.2" text-anchor="middle">9</text>
<text class="d10" transform="translate(517.2 18.3) scale(0.82 1)" font-size="24.2" text-anchor="middle">10</text>
<text class="d" transform="translate(27.3 419.1) scale(0.93 1)" font-size="29.5" text-anchor="middle">1</text>
<text class="z" transform="translate(31.8 417.6) scale(0.8 1)" font-size="22.2" text-anchor="start">、</text>
<text class="zs" style="letter-spacing:1.2px" transform="translate(46.4 418.5) scale(0.69 1)" font-size="20.7">栏杆</text>
<text class="d" transform="translate(135.2 419.1) scale(0.93 1)" font-size="29.5" text-anchor="middle">2</text>
<text class="z" transform="translate(144.1 417.6) scale(0.8 1)" font-size="22.2" text-anchor="start">、</text>
<text class="zs" style="letter-spacing:1.9px" transform="translate(156.9 418.5) scale(0.69 1)" font-size="20.7">桁架桥</text>
<text class="d" transform="translate(245.2 419.1) scale(0.93 1)" font-size="29.5" text-anchor="middle">3</text>
<text class="z" transform="translate(252.9 417.6) scale(0.8 1)" font-size="22.2" text-anchor="start">、</text>
<text class="zs" style="letter-spacing:1.2px" transform="translate(267.9 418.5) scale(0.69 1)" font-size="20.7">刮泥机构</text>
<text class="d" transform="translate(353.3 419.1) scale(0.93 1)" font-size="29.5" text-anchor="middle">4</text>
<text class="z" transform="translate(361.8 417.6) scale(0.8 1)" font-size="22.2" text-anchor="start">、</text>
<text class="zs" style="letter-spacing:0.8px" transform="translate(378.6 418.5) scale(0.69 1)" font-size="20.7">拉杆</text>
<text class="d" transform="translate(467.2 419.1) scale(0.93 1)" font-size="29.5" text-anchor="middle">5</text>
<text class="z" transform="translate(475.7 417.6) scale(0.8 1)" font-size="22.2" text-anchor="start">、</text>
<text class="zs" style="letter-spacing:1.75px" transform="translate(489.2 418.5) scale(0.69 1)" font-size="20.7">减速驱动机构</text>
<text class="d" transform="translate(23.3 464.8) scale(0.93 1)" font-size="29.5" text-anchor="middle">6</text>
<text class="z" transform="translate(31.9 463.3) scale(0.8 1)" font-size="22.2" text-anchor="start">、</text>
<text class="zs" style="letter-spacing:1.0px" transform="translate(47.2 464.2) scale(0.69 1)" font-size="20.7">传动主轴</text>
<text class="d" transform="translate(135.4 464.8) scale(0.93 1)" font-size="29.5" text-anchor="middle">7</text>
<text class="z" transform="translate(143.9 463.3) scale(0.8 1)" font-size="22.2" text-anchor="start">、</text>
<text class="zs" style="letter-spacing:1.7px" transform="translate(157.2 464.2) scale(0.69 1)" font-size="20.7">排泥管</text>
<text class="d" transform="translate(245.6 464.8) scale(0.93 1)" font-size="29.5" text-anchor="middle">8</text>
<text class="z" transform="translate(253.9 463.3) scale(0.8 1)" font-size="22.2" text-anchor="start">、</text>
<text class="zs" style="letter-spacing:0.9px" transform="translate(268.5 464.2) scale(0.69 1)" font-size="20.7">刮板座</text>
<text class="d" transform="translate(356.2 464.8) scale(0.93 1)" font-size="29.5" text-anchor="middle">9</text>
<text class="z" transform="translate(364.4 463.3) scale(0.8 1)" font-size="22.2" text-anchor="start">、</text>
<text class="zs" style="letter-spacing:2.2px" transform="translate(378.5 464.2) scale(0.69 1)" font-size="20.7">水下轴承</text>
<text class="d10b" transform="translate(459.3 464.8) scale(0.93 1)" font-size="29.5" text-anchor="middle">10</text>
<text class="z" transform="translate(473.9 463.3) scale(0.8 1)" font-size="22.2" text-anchor="start">、</text>
<text class="zs" style="letter-spacing:1.7px" transform="translate(489.7 464.2) scale(0.69 1)" font-size="20.7">进水管</text>
</svg>
</body></html>
